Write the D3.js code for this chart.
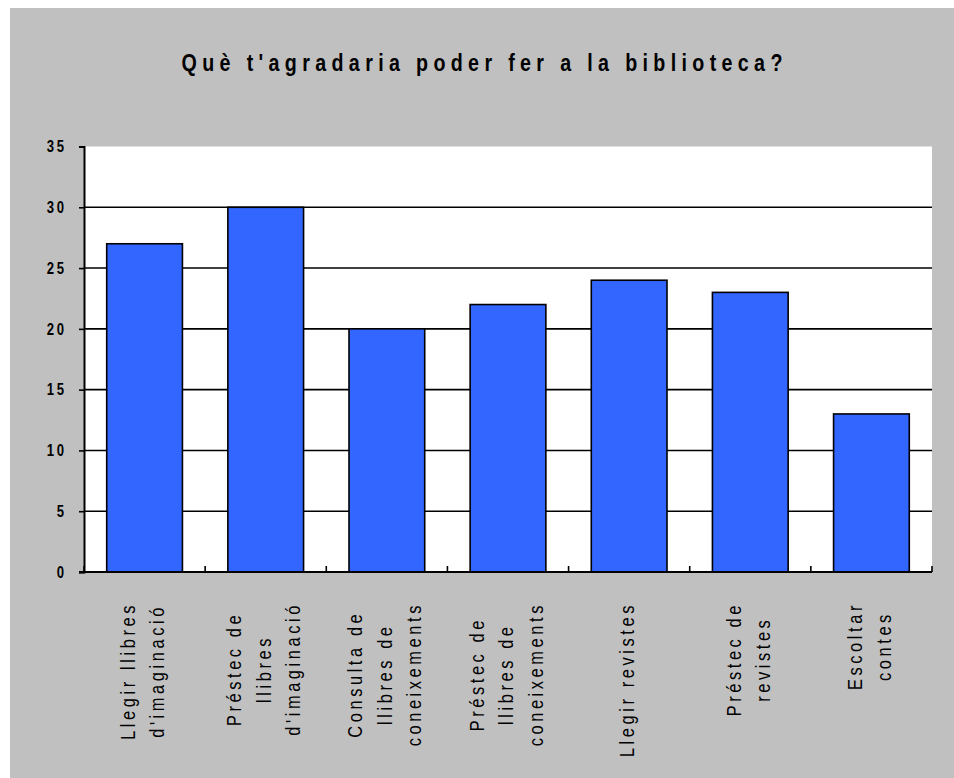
<!DOCTYPE html>
<html>
<head>
<meta charset="utf-8">
<script src="https://cdn.jsdelivr.net/npm/d3@7"></script>
<style>
  body { margin: 0; background: #fff; }
  svg { display: block; }
  text { font-family: 'Liberation Sans Narrow', 'Arial Narrow', 'Liberation Sans', Arial, sans-serif; }
</style>
</head>
<body>
<div id="chart"></div>
<script>
const title = "Què t'agradaria poder fer a la biblioteca?";
const categories = [
  "Llegir llibres\nd'imaginació",
  "Préstec de\nllibres\nd'imaginació",
  "Consulta de\nllibres de\nconeixements",
  "Préstec de\nllibres de\nconeixements",
  "Llegir revistes",
  "Préstec de\nrevistes",
  "Escoltar\ncontes"
];
const values = [27, 30, 20, 22, 24, 23, 13];
const yTicks = [0, 5, 10, 15, 20, 25, 30, 35];

const W = 954, H = 778;
const plot = { left: 84, right: 932, top: 146.5, bottom: 572 };
const squeeze = 0.82; // la font original és estreta (Arial Narrow)

const svg = d3.select('#chart').append('svg')
  .attr('width', W)
  .attr('height', H);

// fons gris del gràfic
svg.append('rect')
  .attr('x', 10).attr('y', 8)
  .attr('width', W - 10).attr('height', H - 8)
  .attr('fill', '#c0c0c0');

// títol, amb l'espaiat ajustat a l'amplada de l'original
const titleText = svg.append('text')
  .attr('text-anchor', 'middle')
  .attr('font-size', 24)
  .attr('font-weight', 'bold')
  .attr('fill', '#000')
  .text(title);
const titleWidth = 601;
const natural = titleText.node().getComputedTextLength();
const spacing = (titleWidth / squeeze - natural) / (title.length - 1);
titleText
  .attr('letter-spacing', spacing)
  .attr('dx', spacing / 2)
  .attr('transform', `translate(${(10 + W) / 2},71) scale(${squeeze},1)`);

const x = d3.scaleBand()
  .domain(categories)
  .range([plot.left, plot.right])
  .paddingInner(0.375)
  .paddingOuter(0.1875);

const y = d3.scaleLinear()
  .domain([0, 35])
  .range([plot.bottom, plot.top]);

// àrea de dibuix
svg.append('rect')
  .attr('x', plot.left).attr('y', plot.top)
  .attr('width', plot.right - plot.left)
  .attr('height', plot.bottom - plot.top)
  .attr('fill', '#fff');

// línies de quadrícula
svg.append('g')
  .selectAll('line')
  .data(yTicks.filter(d => d > 0 && d < 35))
  .enter()
  .append('line')
  .attr('x1', plot.left).attr('x2', plot.right)
  .attr('y1', d => y(d)).attr('y2', d => y(d))
  .attr('stroke', '#000')
  .attr('stroke-width', 1.6);

// barres
svg.append('g')
  .selectAll('rect')
  .data(values)
  .enter()
  .append('rect')
  .attr('x', (d, i) => x(categories[i]))
  .attr('y', d => y(d))
  .attr('width', x.bandwidth())
  .attr('height', d => y(0) - y(d))
  .attr('fill', '#3366ff')
  .attr('stroke', '#000')
  .attr('stroke-width', 1.6);

// eix Y
const yAxis = svg.append('g')
  .attr('transform', `translate(${plot.left},0)`)
  .call(d3.axisLeft(y).tickValues(yTicks).tickSize(5).tickFormat(''));
yAxis.select('.domain').attr('stroke', '#000').attr('stroke-width', 2);
yAxis.selectAll('.tick line').attr('stroke', '#000').attr('stroke-width', 1.6);

svg.append('g')
  .selectAll('text')
  .data(yTicks)
  .enter()
  .append('text')
  .attr('transform', d => `translate(${plot.left - 17},${y(d)}) scale(${squeeze},1)`)
  .attr('text-anchor', 'end')
  .attr('dy', '0.36em')
  .attr('font-size', 16)
  .attr('font-weight', 'bold')
  .attr('letter-spacing', 3.5)
  .attr('fill', '#000')
  .text(d => d);

// eix X
svg.append('line')
  .attr('x1', plot.left - 5).attr('x2', plot.right)
  .attr('y1', y(0)).attr('y2', y(0))
  .attr('stroke', '#000')
  .attr('stroke-width', 2);

svg.append('g')
  .selectAll('line')
  .data(d3.range(categories.length + 1))
  .enter()
  .append('line')
  .attr('x1', i => plot.left + i * x.step())
  .attr('x2', i => plot.left + i * x.step())
  .attr('y1', y(0) - 6).attr('y2', y(0))
  .attr('stroke', '#000')
  .attr('stroke-width', 1.6);

// etiquetes de categoria (girades)
const lineGap = 29.5;
const labelTop = 602;
const labels = svg.append('g')
  .selectAll('g')
  .data(categories)
  .enter()
  .append('g');

labels.each(function (c) {
  const g = d3.select(this);
  const lines = c.split('\n');
  const cx = x(c) + x.bandwidth() / 2 - 2;
  const texts = lines.map(ln => g.append('text')
    .attr('font-size', 20)
    .attr('letter-spacing', 3.6 / squeeze)
    .attr('text-anchor', 'middle')
    .attr('fill', '#000')
    .text(ln));
  const maxLen = d3.max(texts, t => t.node().getComputedTextLength()) * squeeze;
  const cy = labelTop + maxLen / 2;
  texts.forEach((t, i) => {
    const lx = cx + (i - (lines.length - 1) / 2) * lineGap + 7;
    t.attr('transform', `translate(${lx},${cy}) rotate(-90) scale(${squeeze},1)`);
  });
});
</script>
</body>
</html>
